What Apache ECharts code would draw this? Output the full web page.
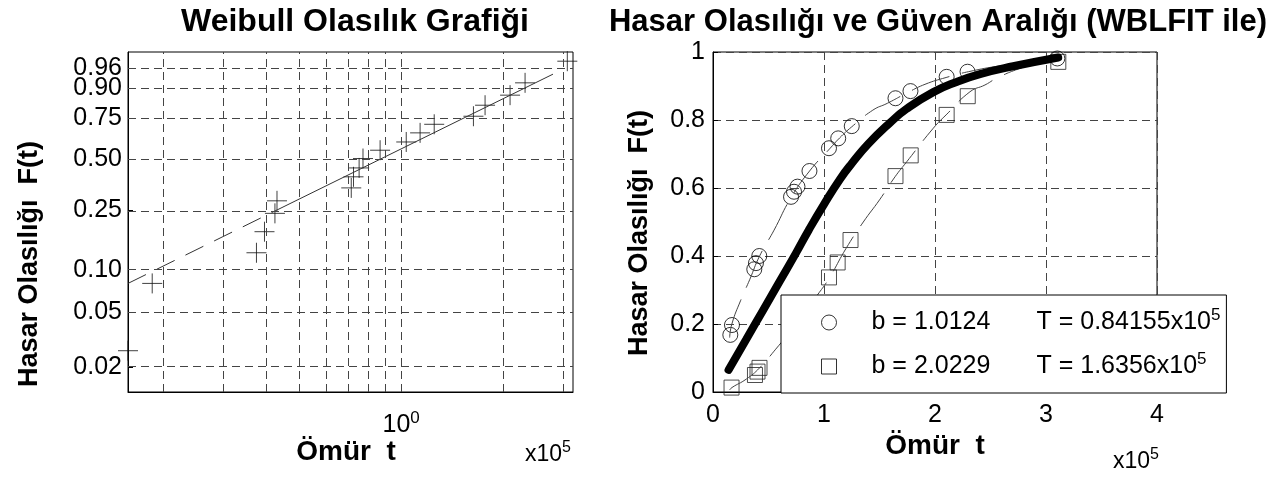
<!DOCTYPE html>
<html><head><meta charset="utf-8">
<script src="https://cdn.jsdelivr.net/npm/echarts@6/dist/echarts.min.js"></script>
<style>html,body{margin:0;padding:0;background:#fff}#c{width:1274px;height:486px}</style>
</head><body><div id="c"></div>
<script>
// ---- Left plot: Weibull probability plot ----
const leftTickLabels = ['0.02','0.05','0.10','0.25','0.50','0.75','0.90','0.96'];
const leftGridX = [0.2,0.3,0.4,0.5,0.6,0.7,0.8,0.9,1,2,3];
const probT = [0.157,0.185,0.375,0.396,0.425,0.431,0.713,0.724,0.752,0.772,0.867,1.035,1.137,1.251,1.632,1.766,2.092,2.316,3.084];
const probF = [0.0262,0.080,0.131,0.182,0.240,0.288,0.345,0.400,0.448,0.502,0.552,0.603,0.660,0.713,0.761,0.822,0.871,0.920,0.974];
const fitSolidT = [0.42,2.478];
const fitSolidF = [0.2453,0.9195];
const fitLowT = [0.157,0.42];
const fitLowF = [0.080,0.2453];
const fitHighT = [2.478,2.95];
const fitHighF = [0.9195,0.956];

// ---- Right plot: CDF and bounds ----
const circleT = [0.156,0.171,0.372,0.387,0.417,0.703,0.730,0.761,0.869,1.045,1.128,1.250,1.644,1.779,2.105,2.293,3.102];
const circleF = [0.168,0.197,0.361,0.379,0.400,0.574,0.589,0.604,0.650,0.717,0.746,0.782,0.864,0.885,0.927,0.942,0.981];
const squareT = [0.167,0.378,0.401,0.419,0.703,0.730,0.761,0.869,1.045,1.123,1.239,1.644,1.781,2.105,2.295,3.111];
const squareF = [0.013,0.050,0.060,0.071,0.190,0.200,0.215,0.255,0.337,0.381,0.447,0.635,0.696,0.815,0.870,0.971];
const cLineT = [0.15,0.17,0.25,0.33,0.42,0.55,0.70,0.87,1.05,1.14,1.25,1.44,1.57,1.75,1.91,2.1,2.3,2.6,2.9,3.1];
const cLineF = [0.16,0.20,0.27,0.33,0.40,0.476,0.57,0.65,0.715,0.747,0.78,0.829,0.849,0.88,0.905,0.925,0.942,0.96,0.972,0.98];
const sLineT = [0.15,0.17,0.30,0.42,0.56,0.75,0.94,1.045,1.2,1.354,1.5,1.64,1.745,1.985,2.1,2.315,2.45,2.556,2.75,2.961];
const sLineF = [0.006,0.013,0.038,0.071,0.124,0.20,0.285,0.334,0.423,0.50,0.565,0.633,0.677,0.776,0.815,0.883,0.903,0.923,0.95,0.9715];
const thickT = [0.14,0.30,0.45,0.60,0.75,0.862,1.0,1.144,1.25,1.40,1.595,1.745,1.985,2.195,2.405,2.705,3.11];
const thickF = [0.065,0.155,0.24,0.325,0.41,0.476,0.552,0.626,0.672,0.73,0.792,0.833,0.882,0.912,0.935,0.958,0.984];
const legendB = ['1.0124','2.0229'];
const legendT = ['0.84155','1.6356'];

const W = F => Math.log(-Math.log(1 - F));
const FONT = 'Liberation Sans, Arial, Helvetica, sans-serif';
const zip = (xs, ys, f) => xs.map((x, i) => [x, f ? f(ys[i]) : ys[i]]);
const gridStyle = {color: '#444', width: 1, type: [8, 5]};
const leftTickVals = leftTickLabels.map(s => W(parseFloat(s)));
// label order: put the 0.90 label first so the crowded 0.90/0.96 pair is not auto-hidden
const nL = leftTickVals.length;
const leftLabelVals = [leftTickVals[nL - 2]].concat(leftTickVals.slice(0, nL - 2), [leftTickVals[nL - 1]]);
const supRich = (big, small) => ({b: {fontFamily: FONT, fontSize: big, lineHeight: 30}, s: {fontFamily: FONT, fontSize: small, lineHeight: 16, padding: [0, 0, 14, 0]}});

const chart = echarts.init(document.getElementById('c'), null, {renderer: 'canvas'});
chart.setOption({
  animation: false,
  backgroundColor: '#fff',
  title: [
    {text: 'Weibull Olasılık Grafiği', left: 350, top: 1, textAlign: 'center',
     textStyle: {fontFamily: FONT, fontSize: 32, fontWeight: 'bold', color: '#000'}},
    {text: 'Hasar Olasılığı ve Güven Aralığı (WBLFIT ile)', left: 933, top: 2, textAlign: 'center',
     textStyle: {fontFamily: FONT, fontSize: 31, fontWeight: 'bold', color: '#000'}}
  ],
  grid: [
    {left: 128, top: 52, width: 445, height: 340, show: true, borderColor: '#000', borderWidth: 1, backgroundColor: '#fff'},
    {left: 713, top: 52, width: 444, height: 340, show: true, borderColor: '#000', borderWidth: 1, backgroundColor: '#fff'}
  ],
  xAxis: [
    {type: 'log', logBase: 10, gridIndex: 0, min: 0.157, max: 3.205,
     axisLine: {onZero: false, lineStyle: {color: '#000'}}, axisTick: {show: false}, splitLine: {show: false}, minorTick: {show: false},
     axisLabel: {color: '#000', fontFamily: FONT, fontSize: 25, margin: 18, showMinLabel: false, showMaxLabel: false,
       formatter: v => Math.abs(v - 1) < 1e-9 ? '{b|10}{s|0}' : '',
       rich: supRich(25, 17)}},
    {type: 'value', gridIndex: 1, min: 0, max: 4, interval: 1,
     axisLine: {onZero: false, lineStyle: {color: '#000'}}, axisTick: {inside: true, length: 5, lineStyle: {color: '#000'}},
     splitLine: {show: true, lineStyle: gridStyle},
     axisLabel: {color: '#000', fontFamily: FONT, fontSize: 25, margin: 11, showMinLabel: true, showMaxLabel: true}}
  ],
  yAxis: [
    {type: 'value', gridIndex: 0, min: -4.331, max: 1.451,
     axisLine: {onZero: false, lineStyle: {color: '#000'}},
     axisTick: {inside: true, length: 5, customValues: leftTickVals, lineStyle: {color: '#000'}},
     splitLine: {show: false},
     axisLabel: {color: '#000', fontFamily: FONT, fontSize: 25, margin: 6, customValues: leftLabelVals,
       showMinLabel: true, showMaxLabel: true, hideOverlap: false,
       formatter: v => { let best = 0; leftTickVals.forEach((t, i) => { if (Math.abs(t - v) < Math.abs(leftTickVals[best] - v)) best = i; }); return leftTickLabels[best]; }}},
    {type: 'value', gridIndex: 1, min: 0, max: 1, interval: 0.2,
     axisLine: {onZero: false, lineStyle: {color: '#000'}}, axisTick: {inside: true, length: 5, lineStyle: {color: '#000'}},
     splitLine: {show: true, lineStyle: gridStyle},
     axisLabel: {color: '#000', fontFamily: FONT, fontSize: 25, margin: 8, showMinLabel: true, showMaxLabel: true}}
  ],
  legend: {
    left: 781, top: 295, orient: 'vertical',
    backgroundColor: '#fff', borderColor: '#000', borderWidth: 1,
    padding: [12, 6, 11, 40], itemWidth: 15, itemHeight: 15, itemGap: 13,
    selectedMode: false,
    data: [
      {name: 'c', icon: 'circle', itemStyle: {color: 'rgba(0,0,0,0)', borderColor: '#000', borderWidth: 1}},
      {name: 's', icon: 'path://M0,0H10V10H0Z', itemStyle: {color: 'rgba(0,0,0,0)', borderColor: '#000', borderWidth: 1}}
    ],
    formatter: name => {
      const i = name === 'c' ? 0 : 1;
      return '{a|b = ' + legendB[i] + '}{b|T = ' + legendT[i] + 'x10}{s|5}';
    },
    textStyle: {fontFamily: FONT, fontSize: 25, color: '#000', lineHeight: 30,
      rich: {
        a: {fontFamily: FONT, fontSize: 25, lineHeight: 30, width: 165, padding: [0, 0, 0, 30]},
        b: {fontFamily: FONT, fontSize: 25, lineHeight: 30},
        s: {fontFamily: FONT, fontSize: 17, lineHeight: 16, padding: [0, 0, 14, 0]}
      }}
  },
  graphic: [
    {type: 'text', x: 30, y: 264, rotation: Math.PI / 2,
     style: {text: 'Hasar Olasılığı  F(t)', font: 'bold 27px ' + FONT, fill: '#000', align: 'center', verticalAlign: 'middle'}},
    {type: 'text', x: 640, y: 233, rotation: Math.PI / 2,
     style: {text: 'Hasar Olasılığı  F(t)', font: 'bold 27px ' + FONT, fill: '#000', align: 'center', verticalAlign: 'middle'}},
    {type: 'text', x: 346, y: 452,
     style: {text: 'Ömür  t', font: 'bold 28px ' + FONT, fill: '#000', align: 'center', verticalAlign: 'middle'}},
    {type: 'text', x: 935, y: 446,
     style: {text: 'Ömür  t', font: 'bold 28px ' + FONT, fill: '#000', align: 'center', verticalAlign: 'middle'}},
    {type: 'text', x: 525, y: 455,
     style: {text: '{b|x10}{s|5}', fill: '#000', align: 'left', verticalAlign: 'middle', rich: supRich(23, 16)}},
    {type: 'text', x: 1113, y: 462,
     style: {text: '{b|x10}{s|5}', fill: '#000', align: 'left', verticalAlign: 'middle', rich: supRich(23, 16)}}
  ],
  series: [
    {type: 'line', xAxisIndex: 0, yAxisIndex: 0, data: [], silent: true,
     markLine: {silent: true, symbol: 'none', label: {show: false}, lineStyle: gridStyle, animation: false,
       data: leftGridX.map(v => ({xAxis: v})).concat(leftTickVals.map(v => ({yAxis: v})))}},
    {type: 'line', xAxisIndex: 0, yAxisIndex: 0, data: zip(fitSolidT, fitSolidF, W), showSymbol: false, silent: true,
     lineStyle: {color: '#333', width: 1}},
    {type: 'line', xAxisIndex: 0, yAxisIndex: 0, data: zip(fitLowT, fitLowF, W), showSymbol: false, silent: true,
     lineStyle: {color: '#333', width: 1, type: [20, 12]}},
    {type: 'line', xAxisIndex: 0, yAxisIndex: 0, data: zip(fitHighT, fitHighF, W), showSymbol: false, silent: true,
     lineStyle: {color: '#333', width: 1, type: [20, 12]}},
    {type: 'scatter', xAxisIndex: 0, yAxisIndex: 0, data: zip(probT, probF, W), clip: false,
     symbol: 'path://M10,0V20M0,10H20', symbolSize: 20,
     itemStyle: {color: 'rgba(0,0,0,0)', borderColor: '#111', borderWidth: 1}},
    // right
    {type: 'line', xAxisIndex: 1, yAxisIndex: 1, data: zip(cLineT, cLineF), smooth: true, showSymbol: false, silent: true,
     lineStyle: {color: '#444', width: 1, type: [40, 13]}},
    {type: 'line', xAxisIndex: 1, yAxisIndex: 1, data: zip(sLineT, sLineF), smooth: true, showSymbol: false, silent: true,
     lineStyle: {color: '#444', width: 1, type: [40, 13]}},
    {type: 'line', xAxisIndex: 1, yAxisIndex: 1, data: zip(thickT, thickF), smooth: true, showSymbol: false, silent: true,
     lineStyle: {color: '#000', width: 8, cap: 'round'}},
    {name: 'c', type: 'scatter', xAxisIndex: 1, yAxisIndex: 1, data: zip(circleT, circleF), symbol: 'circle', symbolSize: 15,
     itemStyle: {color: 'rgba(0,0,0,0)', borderColor: '#000', borderWidth: 1}},
    {name: 's', type: 'scatter', xAxisIndex: 1, yAxisIndex: 1, data: zip(squareT, squareF), symbol: 'rect', symbolSize: 15,
     itemStyle: {color: 'rgba(0,0,0,0)', borderColor: '#222', borderWidth: 1}}
  ]
});
</script>
</body></html>
